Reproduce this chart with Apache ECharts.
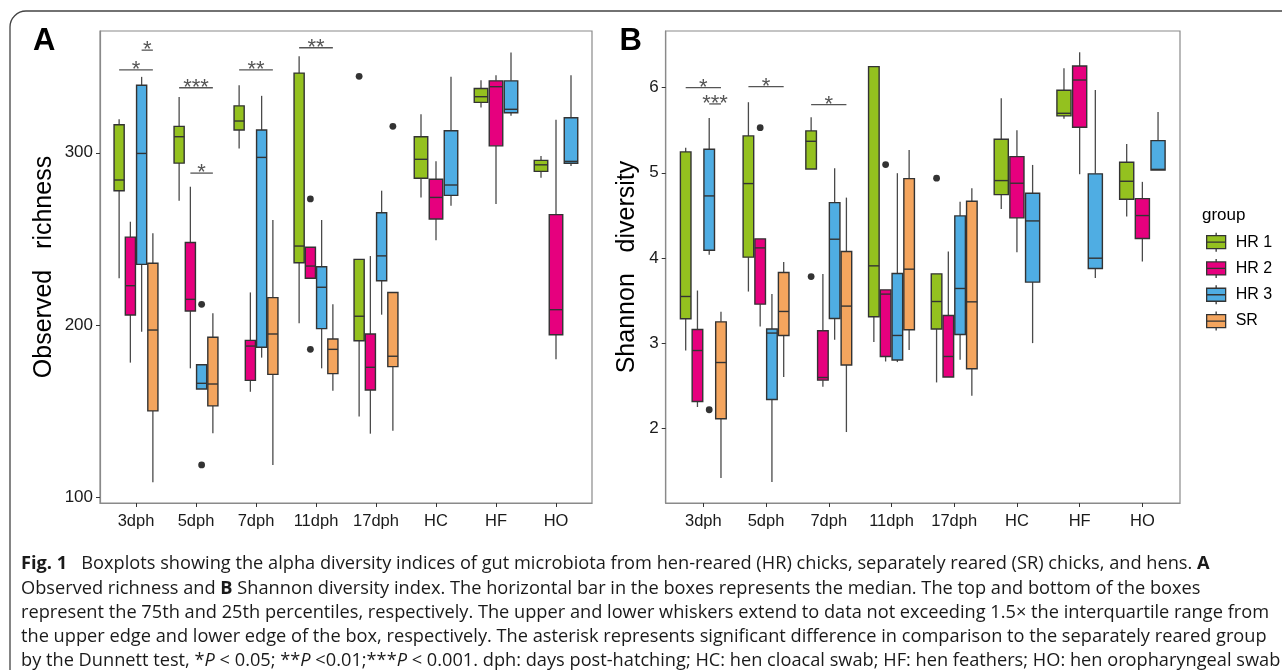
<!DOCTYPE html>
<html><head><meta charset="utf-8">
<script src="https://cdn.jsdelivr.net/npm/echarts@6/dist/echarts.min.js"></script>
<style>html,body{margin:0;padding:0;background:#fff;}#c{width:1282px;height:670px;}</style>
</head><body><div id="c"></div>
<script>
const categories = ['3dph','5dph','7dph','11dph','17dph','HC','HF','HO'];
const groups = ['HR 1','HR 2','HR 3','SR'];
const groupColors = ['#94C11F','#E6007E','#4FADE3','#F4A55E'];

// Observed richness: [lower whisker, Q1, median, Q3, upper whisker] per category
const richness_HR1 = [[227.2,278.0,284.2,316.2,319.4],[272.2,294.0,309.3,315.3,332.3],[302.5,313.2,318.4,327.2,339.1],[201.1,236.2,245.9,346.2,356.0],[147.0,191.0,205.2,238.2,238.2],[274.1,285.2,296.2,309.3,322.3],[326.3,329.2,332.5,337.3,342.1],[285.5,289.2,293.0,295.6,298.1]];
const richness_HR2 = [[178.3,205.9,222.9,251.1,260.0],[175.0,208.2,215.0,248.0,280.3],[161.4,168.0,187.9,191.2,219.0],[227.2,227.2,234.3,245.2,245.2],[137.1,162.4,175.6,194.9,240.1],[249.2,261.6,274.1,284.6,295.0],[270.3,304.0,338.3,341.7,344.9],[180.2,194.5,209.0,264.1,319.1]];
const richness_HR3 = [[196.2,235.3,299.6,339.1,344.0],[163.0,163.0,166.3,177.1,177.1],[181.2,187.2,297.3,313.2,333.0],[175.0,198.0,222.0,233.9,261.0],[206.1,225.8,240.2,265.2,278.0],[269.3,275.3,281.3,312.8,344.1],[321.4,323.2,325.2,341.7,358.2],[292.3,293.9,295.0,320.3,345.0]];
const richness_SR  = [[108.9,150.3,197.2,235.9,253.3],[137.3,153.2,165.9,193.0,206.9],[119.0,171.5,194.9,216.0,261.0],[162.0,171.9,186.0,192.0,212.1],[138.8,176.0,182.0,219.0,219.0],null,null,null];
// outliers: [category index, group index, value]
const richness_outliers = [[1,2,212.1],[1,2,119.0],[3,1,273.2],[3,1,186.0],[4,0,344.3],[4,3,315.3]];
// significance: [category index, from group, to group, bar value, label]
const richness_signif = [[0,0,3,348.1,'*'],[0,2,3,359.5,'*'],[1,0,3,337.7,'***'],[1,1,3,288.2,'*'],[2,0,3,348.1,'**'],[3,0,3,360.9,'**']];
const richness_ticks = [100,200,300];

// Shannon diversity
const shannon_HR1 = [[2.911,3.284,3.546,5.245,5.295],[3.604,4.008,4.873,5.433,5.829],[5.045,5.045,5.370,5.492,5.652],[3.010,3.307,3.906,6.247,6.247],[2.536,3.163,3.487,3.812,3.812],[4.575,4.743,4.908,5.394,5.876],[5.636,5.668,5.699,5.969,6.228],[4.485,4.689,4.900,5.124,5.339]];
const shannon_HR2 = [[2.247,2.312,2.911,3.158,3.616],[3.193,3.456,4.117,4.223,4.223],[2.485,2.563,2.594,3.143,3.810],[2.782,2.841,3.574,3.624,3.624],[2.599,2.599,2.841,3.322,4.074],[4.067,4.470,4.877,5.190,5.500],[4.983,5.535,6.090,6.255,6.416],[3.957,4.227,4.497,4.696,4.893]];
const shannon_HR3 = [[4.035,4.090,4.728,5.277,5.644],[1.366,2.336,3.116,3.163,3.574],[3.037,3.287,4.219,4.649,5.053],[2.775,2.799,3.088,3.816,4.995],[2.802,3.100,3.640,4.493,4.658],[2.998,3.715,4.434,4.760,5.092],[3.762,3.874,3.996,4.987,5.973],[5.033,5.033,5.040,5.378,5.715]];
const shannon_SR  = [[1.413,2.109,2.770,3.248,3.366],[2.599,3.088,3.370,3.827,3.950],[1.953,2.740,3.433,4.074,4.708],[2.916,3.155,3.867,4.931,5.268],[2.379,2.696,3.483,4.666,4.819],null,null,null];
const shannon_outliers = [[0,2,2.215],[1,1,5.530],[2,0,3.780],[3,1,5.096],[4,0,4.936]];
const shannon_signif = [[0,0,3,6.000,'*'],[0,2,3,5.809,'***'],[1,0,3,6.012,'*'],[2,0,3,5.800,'*']];
const shannon_ticks = [2,3,4,5,6];

const captionLines = [
  '{b|Fig. 1}   Boxplots showing the alpha diversity indices of gut microbiota from hen-reared (HR) chicks, separately reared (SR) chicks, and hens. {b|A}',
  'Observed richness and {b|B} Shannon diversity index. The horizontal bar in the boxes represents the median. The top and bottom of the boxes',
  'represent the 75th and 25th percentiles, respectively. The upper and lower whiskers extend to data not exceeding 1.5\u00d7 the interquartile range from',
  'the upper edge and lower edge of the box, respectively. The asterisk represents significant difference in comparison to the separately reared group',
  'by the Dunnett test, *{i|P} < 0.05; **{i|P} <0.01;***{i|P} < 0.001. dph: days post-hatching; HC: hen cloacal swab; HF: hen feathers; HO: hen oropharyngeal swab'
];

const FONT = 'Liberation Sans, Arial, sans-serif';
const panels = [
  {data:[richness_HR1,richness_HR2,richness_HR3,richness_SR], outliers:richness_outliers, signif:richness_signif, ticks:richness_ticks},
  {data:[shannon_HR1,shannon_HR2,shannon_HR3,shannon_SR], outliers:shannon_outliers, signif:shannon_signif, ticks:shannon_ticks}
];

function slot(panel, cat, g) {
  const present = panel.data.map(a => a[cat] != null);
  const n = present.filter(Boolean).length;
  let k = 0; for (let i = 0; i < g; i++) if (present[i]) k++;
  return [k, n];
}
function xPos(c, k, n) { const step = 0.75 / n; return c + (k - (n - 1) / 2) * step; }

function boxRender(params, api) {
  const c = api.value(0), k = api.value(1), n = api.value(2);
  const x = xPos(c, k, n), hw = 0.75 / n * 0.45;
  const lo = api.coord([x, api.value(3)]), q1 = api.coord([x, api.value(4)]), md = api.coord([x, api.value(5)]),
        q3 = api.coord([x, api.value(6)]), hi = api.coord([x, api.value(7)]);
  const l = api.coord([x - hw, api.value(5)])[0], r = api.coord([x + hw, api.value(5)])[0];
  const ch = [];
  if (Math.abs(lo[1] - q1[1]) > 0.5) ch.push({type:'line', shape:{x1:lo[0],y1:lo[1],x2:q1[0],y2:q1[1]}, style:{stroke:'#4a4a4a', lineWidth:1.3}});
  if (Math.abs(hi[1] - q3[1]) > 0.5) ch.push({type:'line', shape:{x1:q3[0],y1:q3[1],x2:hi[0],y2:hi[1]}, style:{stroke:'#4a4a4a', lineWidth:1.3}});
  ch.push({type:'rect', shape:{x:l, y:q3[1], width:r - l, height:q1[1] - q3[1]}, style:{fill:api.visual('color'), stroke:'#333', lineWidth:1.4}});
  ch.push({type:'line', shape:{x1:l,y1:md[1],x2:r,y2:md[1]}, style:{stroke:'#333', lineWidth:1.4}});
  return {type:'group', children:ch};
}

const series = [];
panels.forEach((p, pi) => {
  p.data.forEach((arr, g) => {
    const items = [];
    arr.forEach((v, c) => { if (v) { const [k, n] = slot(p, c, g); items.push([c + 1, k, n].concat(v)); } });
    series.push({type:'custom', name:groups[g], xAxisIndex:pi, yAxisIndex:pi, itemStyle:{color:groupColors[g]},
      encode:{x:0, y:[3,4,5,6,7]}, renderItem:boxRender, data:items, z:2});
  });
  const out = p.outliers.map(o => { const [k, n] = slot(p, o[0], o[1]); return [o[0] + 1, k, n, o[2]]; });
  series.push({type:'custom', name:'outliers', xAxisIndex:pi, yAxisIndex:pi, encode:{x:0, y:3}, data:out, z:3,
    renderItem(params, api) {
      const pt = api.coord([xPos(api.value(0), api.value(1), api.value(2)), api.value(3)]);
      return {type:'circle', shape:{cx:pt[0], cy:pt[1], r:3.4}, style:{fill:'#333'}};
    }});
  const sig = p.signif.map(s => { const [k1, n] = slot(p, s[0], s[1]); const [k2] = slot(p, s[0], s[2]); return [s[0] + 1, k1, k2, n, s[3]]; });
  series.push({type:'custom', name:'signif', xAxisIndex:pi, yAxisIndex:pi, encode:{x:0, y:4}, data:sig, z:3,
    renderItem(params, api) {
      const c = api.value(0), n = api.value(3), y = api.value(4);
      const a = api.coord([xPos(c, api.value(1), n), y]), b = api.coord([xPos(c, api.value(2), n), y]);
      return {type:'group', children:[
        {type:'line', shape:{x1:a[0],y1:a[1],x2:b[0],y2:b[1]}, style:{stroke:'#555', lineWidth:1.3}},
        {type:'text', style:{text:p.signif[params.dataIndex][4], x:(a[0] + b[0]) / 2, y:a[1], align:'center', verticalAlign:'middle', font:'22px ' + FONT, fill:'#555'}}
      ]};
    }});
});

const catTicks = categories.map((c, i) => i + 1);
function xAxis(gi) {
  return {gridIndex:gi, type:'value', min:0.4, max:8.6, splitLine:{show:false},
    axisLine:{show:true, lineStyle:{color:'#8a8a8a', width:1.2}},
    axisTick:{show:true, customValues:catTicks, length:4, lineStyle:{color:'#333', width:1}},
    axisLabel:{customValues:catTicks, formatter:v => categories[Math.round(v) - 1], fontSize:16.5, color:'#1a1a1a', margin:10, fontFamily:FONT}};
}
function yAxis(gi, min, max, ticks, name, gap) {
  return {gridIndex:gi, type:'value', min:min, max:max, splitLine:{show:false},
    axisLine:{show:true, lineStyle:{color:'#8a8a8a', width:1.2}},
    axisTick:{show:true, customValues:ticks, length:4, lineStyle:{color:'#333', width:1}},
    axisLabel:{customValues:ticks, fontSize:17, color:'#1a1a1a', margin:7, fontFamily:FONT},
    name:name, nameLocation:'middle', nameGap:gap, nameRotate:90,
    nameTextStyle:{fontSize:25, color:'#000', fontFamily:FONT}};
}

const capSize = 18.5;
const capFont = capSize + 'px "Open Sans"';
const mctx = document.createElement('canvas').getContext('2d');
mctx.font = capFont;
const capScale = 1248 / mctx.measureText(captionLines[2]).width;
const capY = [564, 588.25, 612.5, 636.75, 661];
const capRich = {
  b:{fontWeight:'bold', fontSize:capSize, fontFamily:'Open Sans', fill:'#1a1a1a'},
  i:{fontStyle:'italic', fontSize:capSize, fontFamily:'Open Sans', fill:'#1a1a1a'}
};
const graphics = [
  {type:'rect', shape:{x:10, y:11, width:1320, height:720, r:16}, style:{fill:'none', stroke:'#444', lineWidth:1.3}, silent:true},
  {type:'text', x:33, y:41, style:{text:'A', font:'bold 31px ' + FONT, fill:'#000', verticalAlign:'middle'}},
  {type:'text', x:619.5, y:41, style:{text:'B', font:'bold 31px ' + FONT, fill:'#000', verticalAlign:'middle'}},
  {type:'text', x:1202, y:215, style:{text:'group', font:'17px ' + FONT, fill:'#000', verticalAlign:'middle'}}
];
captionLines.forEach((t, i) => {
  graphics.push({type:'text', x:21, y:capY[i], scaleX:capScale,
    style:{text:t, font:capFont, fill:'#1a1a1a', verticalAlign:'middle', rich:capRich}});
});

const chart = echarts.init(document.getElementById('c'), null, {renderer:'canvas'});
chart.setOption({
  animation:false,
  backgroundColor:'#fff',
  grid:[
    {left:100, top:31, width:492, height:472, show:true, borderColor:'#8a8a8a', borderWidth:1.2, backgroundColor:'transparent'},
    {left:665.7, top:31, width:514.3, height:472, show:true, borderColor:'#8a8a8a', borderWidth:1.2, backgroundColor:'transparent'}
  ],
  xAxis:[xAxis(0), xAxis(1)],
  yAxis:[yAxis(0, 96.9, 370.6, richness_ticks, 'Observed   richness', 43), yAxis(1, 1.119, 6.666, shannon_ticks, 'Shannon   diversity', 26.5)],
  legend:{orient:'vertical', left:1206, top:232, padding:0, itemWidth:19, itemHeight:19, itemGap:6, selectedMode:false,
    icon:'path://M0,3L19,3L19,16L0,16Z M0,9.5L19,9.5 M9.5,0L9.5,3 M9.5,16L9.5,19',
    itemStyle:{borderColor:'#333', borderWidth:1.3},
    textStyle:{fontSize:16, color:'#000', fontFamily:FONT, padding:[0,0,0,5]}, data:groups},
  graphic:graphics,
  series:series
});
</script></body></html>
